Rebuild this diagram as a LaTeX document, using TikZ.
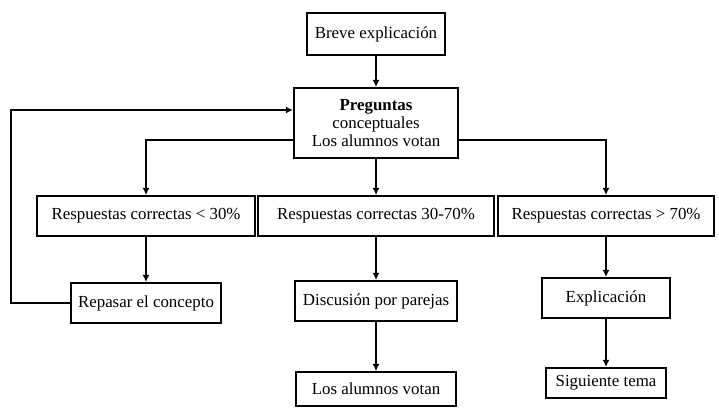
\documentclass[tikz,border=0pt]{standalone}
\usepackage{fontspec}
\setmainfont{Liberation Serif}
\usepackage{tikz}
\usetikzlibrary{calc, arrows.meta, positioning}

\begin{document}
\begin{tikzpicture}[x=0.025cm, y=-0.025cm,
    caja/.style={draw, line width=1.5pt, inner sep=2pt, align=center, font=\fontsize{12}{13}\selectfont},
    flecha/.style={line width=1pt, -{Latex[length=5pt, width=5pt]}}]
  \useasboundingbox (0,0) rectangle (719,410);
  % fila superior
  \node[caja, minimum width=3.45cm, minimum height=1.05cm] (breve) at (376,34) {Breve explicación};
  \node[caja, minimum width=4.1cm, minimum height=1.75cm] (preg) at (376,123) {\textbf{Preguntas}\\conceptuales\\Los alumnos votan};
  % respuestas
  \node[caja, minimum width=5.45cm, minimum height=1cm] (bajo) at (146,216) {Respuestas correctas < 30\%};
  \node[caja, minimum width=5.9cm, minimum height=1cm] (medio) at (376,216) {Respuestas correctas 30-70\%};
  \node[caja, minimum width=5.4cm, minimum height=1cm] (alto) at (606,216) {Respuestas correctas > 70\%};
  % siguientes pasos
  \node[caja, minimum width=3.75cm, minimum height=1cm] (repaso) at (146,303) {Repasar el concepto};
  \node[caja, minimum width=4.05cm, minimum height=1cm] (discusion) at (376,301) {Discusión por parejas};
  \node[caja, minimum width=3.2cm, minimum height=1cm] (explic) at (606,298) {Explicación};
  \node[caja, minimum width=4cm, minimum height=0.85cm] (votan) at (376,389) {Los alumnos votan};
  \node[caja, minimum width=3cm, minimum height=0.75cm] (siguiente) at (606,383) {Siguiente tema};

  \draw[flecha] (breve) -- (preg);
  \draw[flecha] (preg) -- (medio);
  \draw[flecha] ($(preg.west)+(0,17)$) -| (bajo);
  \draw[flecha] ($(preg.east)+(0,17)$) -| (alto);
  \draw[flecha] (bajo) -- (repaso);
  \draw[flecha] (medio) -- (discusion);
  \draw[flecha] (alto) -- (explic);
  \draw[flecha] (discusion) -- (votan);
  \draw[flecha] (explic) -- (siguiente);
  \draw[flecha] (repaso.west) -- ++(-59,0) |- ($(preg.west)+(0,-13)$);
\end{tikzpicture}
\end{document}
